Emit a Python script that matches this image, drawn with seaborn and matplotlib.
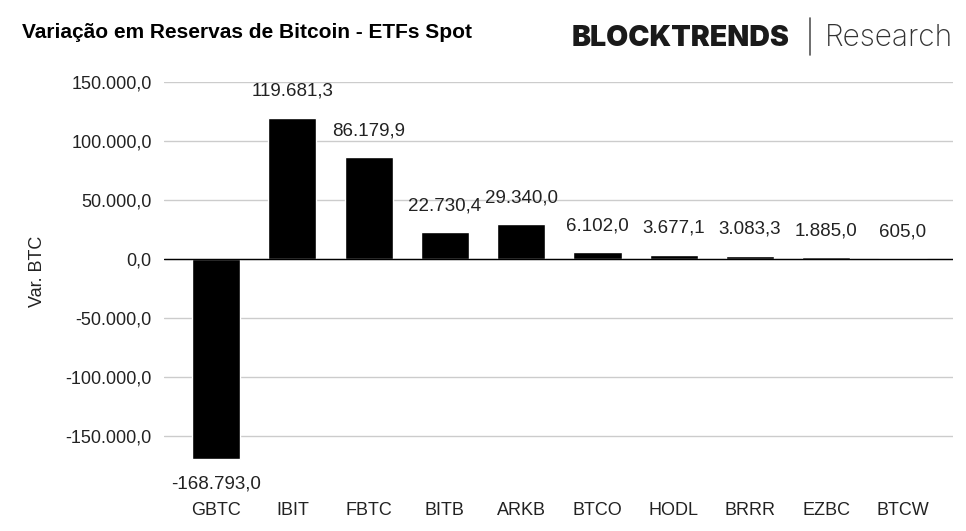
import matplotlib
matplotlib.use("Agg")
import matplotlib.pyplot as plt
import seaborn as sns
import pandas as pd
from matplotlib.ticker import FuncFormatter

tickers = ["GBTC", "IBIT", "FBTC", "BITB", "ARKB", "BTCO", "HODL", "BRRR", "EZBC", "BTCW"]
var_btc = [-168793.0, 119681.3, 86179.9, 22730.4, 29340.0, 6102.0, 3677.1, 3083.3, 1885.0, 605.0]
y_ticks = [-150000, -100000, -50000, 0, 50000, 100000, 150000]

def br(v, dec=1):
    s = f"{v:,.{dec}f}"
    return s.replace(",", "X").replace(".", ",").replace("X", ".")

sns.set_theme(style="white")
plt.rcParams["font.family"] = ["Liberation Sans", "DejaVu Sans"]

df = pd.DataFrame({"ticker": tickers, "var": var_btc})

fig = plt.figure(figsize=(9.66, 5.31), dpi=100)
ax = fig.add_axes([0.170, 0.1337, 0.8165, 0.712])

sns.barplot(data=df, x="ticker", y="var", color="black", width=0.63,
            saturation=1, ax=ax, zorder=3)

ax.set_ylim(-170000, 150000)
ax.set_xlim(-0.5 - 0.18, 9.5 + 0.16)
ax.set_yticks(y_ticks)
ax.yaxis.set_major_formatter(FuncFormatter(lambda v, p: br(v)))
ax.grid(axis="y", color="#cccccc", linewidth=1, zorder=0)
ax.axhline(0, color="black", linewidth=1, zorder=4)
for s in ax.spines.values():
    s.set_visible(False)
ax.tick_params(axis="both", length=0, labelsize=13, colors="#222222")
ax.tick_params(axis="y", pad=9)
ax.tick_params(axis="x", pad=30)
ax.set_xlabel("")
ax.set_ylabel("Var. BTC", fontsize=13, color="#222222", labelpad=14)

for i, v in enumerate(var_btc):
    if v >= 0:
        ax.annotate(br(v), (i, v), xytext=(0, 19), textcoords="offset points",
                    ha="center", va="center", fontsize=13.5, color="#222222")
    else:
        ax.annotate(br(v), (i, v), xytext=(0, -18), textcoords="offset points",
                    ha="center", va="center", fontsize=13.5, color="#222222")

fig.text(22 / 966, 1 - 33 / 531, "Variação em Reservas de Bitcoin - ETFs Spot",
         fontsize=15, fontweight="bold", color="black", ha="left", va="center")
fig.text(572 / 966, 1 - 38 / 531, "BLOCKTRENDS", fontsize=20.5, fontweight="black",
         family=["Inter", "DejaVu Sans"], color="#1a1a1a", ha="left", va="center")
fig.add_artist(plt.Line2D([810 / 966, 810 / 966], [1 - 18 / 531, 1 - 55 / 531],
                          color="#555555", linewidth=1.2))
fig.text(953 / 966, 1 - 38 / 531, "Research", fontsize=21.5, fontweight="light",
         family=["Inter", "DejaVu Sans"], color="#333333", ha="right", va="center")

fig.savefig("out.png", dpi=100)
